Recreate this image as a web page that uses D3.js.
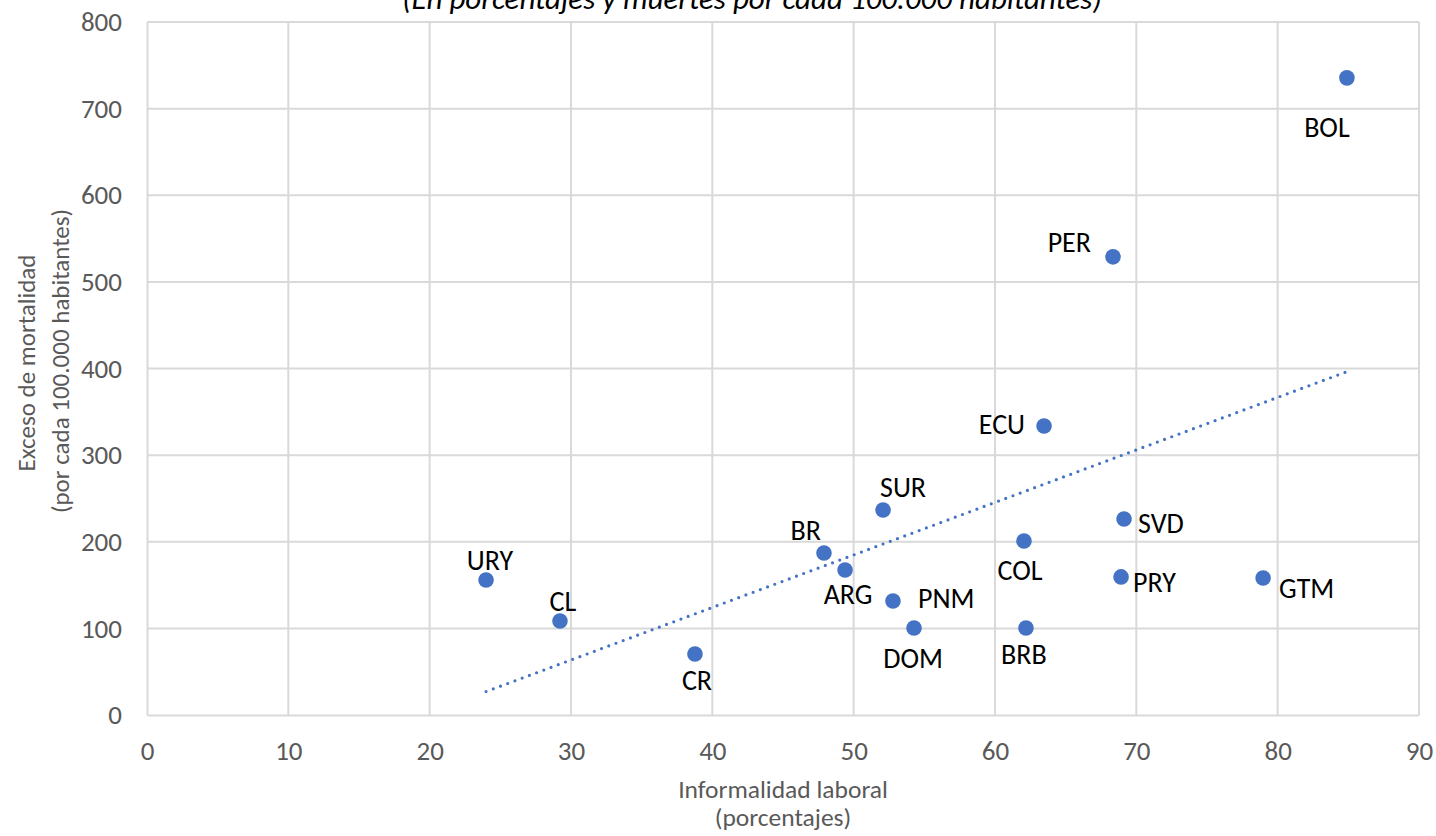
<!DOCTYPE html>
<html><head><meta charset="utf-8">
<script src="https://cdn.jsdelivr.net/npm/d3@7"></script>
<style>
html,body{margin:0;padding:0;background:#fff;}
svg text{font-family:Carlito,Calibri,Lato,"Open Sans",sans-serif;}
</style></head>
<body><svg id="c" width="1436" height="836"></svg>
<script>
const countries = ["BOL","PER","ECU","SUR","SVD","COL","BR","ARG","URY","PRY","GTM","PNM","CL","DOM","BRB","CR"];
const informality = [84.9,68.35,63.47,52.08,69.13,62.05,47.9,49.39,23.99,68.92,78.97,52.78,29.22,54.27,62.19,38.77];
const excessMortality = [735.5,528.9,333.7,236.7,226.3,200.9,187,167.4,155.9,159.4,158.2,131.6,108.5,100.5,100.5,70.4];
const xTicks = [0,10,20,30,40,50,60,70,80,90];
const yTicks = [0,100,200,300,400,500,600,700,800];
const titleText = "(En porcentajes y muertes por cada 100.000 habitantes)";
const xTitle = ["Informalidad laboral","(porcentajes)"];
const yTitle = ["Exceso de mortalidad","(por cada 100.000 habitantes)"];

// label placement (dx, dy to text anchor point, anchor)
const labelPos = {
  BOL:[-20,59,"middle"], PER:[-22,-5,"end"], ECU:[-19,8,"end"], SUR:[20,-13,"middle"],
  SVD:[14,14,"start"], COL:[-4,39,"middle"], BR:[-3,-13,"end"], ARG:[3,34,"middle"],
  URY:[4,-10,"middle"], PRY:[12,15,"start"], GTM:[16,20,"start"], PNM:[25,7,"start"],
  CL:[3,-10,"middle"], DOM:[-1,40,"middle"], BRB:[-2,36,"middle"], CR:[2,36,"middle"]
};

const svg = d3.select("#c");
const x = d3.scaleLinear().domain([0,90]).range([147,1419]);
const y = d3.scaleLinear().domain([0,800]).range([715,22]);
const grid = "#d9d9d9", txt = "#595959", blue = "#4472C4";
const FF = "Carlito,Calibri,Lato,'Open Sans',sans-serif";

// gridlines
svg.append("g").selectAll("line.v").data(xTicks.slice(1)).join("line")
  .attr("x1",d=>x(d)).attr("x2",d=>x(d)).attr("y1",y(0)).attr("y2",y(800))
  .attr("stroke",grid).attr("stroke-width",2);
svg.append("g").selectAll("line.h").data(yTicks.slice(1)).join("line")
  .attr("x1",x(0)).attr("x2",x(90)).attr("y1",d=>y(d)).attr("y2",d=>y(d))
  .attr("stroke",grid).attr("stroke-width",2);

// axes
const xAxis = svg.append("g").attr("transform",`translate(0,${y(0)})`)
  .call(d3.axisBottom(x).tickValues(xTicks).tickSize(0).tickPadding(26));
const yAxis = svg.append("g").attr("transform",`translate(${x(0)},0)`)
  .call(d3.axisLeft(y).tickValues(yTicks).tickSize(0).tickPadding(25));
[xAxis,yAxis].forEach(a=>{
  a.select(".domain").attr("stroke",grid).attr("stroke-width",2);
  a.selectAll("text").attr("fill",txt).style("font-size","27px").style("font-family",FF);
});

// trendline (least squares, as in Excel linear trendline)
const n = informality.length;
const mx = d3.mean(informality), my = d3.mean(excessMortality);
let sxy=0,sxx=0;
for(let i=0;i<n;i++){sxy+=(informality[i]-mx)*(excessMortality[i]-my);sxx+=(informality[i]-mx)**2;}
const slope = sxy/sxx, icpt = my - slope*mx;
const x0 = d3.min(informality), x1 = d3.max(informality);
svg.append("line")
  .attr("x1",x(x0)).attr("y1",y(icpt+slope*x0))
  .attr("x2",x(x1)).attr("y2",y(icpt+slope*x1))
  .attr("stroke",blue).attr("stroke-width",3.2).attr("stroke-linecap","round")
  .attr("stroke-dasharray","0 7.7");

// points
const pts = countries.map((c,i)=>({c,x:informality[i],y:excessMortality[i]}));
svg.append("g").selectAll("circle").data(pts).join("circle")
  .attr("cx",d=>x(d.x)).attr("cy",d=>y(d.y)).attr("r",7.8).attr("fill",blue);

// labels
svg.append("g").selectAll("text").data(pts).join("text")
  .attr("x",d=>x(d.x)+labelPos[d.c][0]).attr("y",d=>y(d.y)+labelPos[d.c][1])
  .attr("text-anchor",d=>labelPos[d.c][2])
  .attr("fill","#000").style("font-size","28px").text(d=>d.c);

// title
svg.append("text").attr("x",752).attr("y",9).attr("text-anchor","middle")
  .attr("fill","#000").style("font-size","31px").style("font-style","italic").text(titleText);

// axis titles
svg.append("text").attr("x",783).attr("y",798).attr("text-anchor","middle")
  .attr("fill",txt).style("font-size","25.5px").text(xTitle[0]);
svg.append("text").attr("x",783).attr("y",826).attr("text-anchor","middle")
  .attr("fill",txt).style("font-size","25.5px").text(xTitle[1]);
svg.append("text").attr("transform","translate(35,363) rotate(-90)").attr("text-anchor","middle")
  .attr("fill",txt).style("font-size","25px").text(yTitle[0]);
svg.append("text").attr("transform","translate(69,361) rotate(-90)").attr("text-anchor","middle")
  .attr("fill",txt).style("font-size","25px").text(yTitle[1]);
</script></body></html>
